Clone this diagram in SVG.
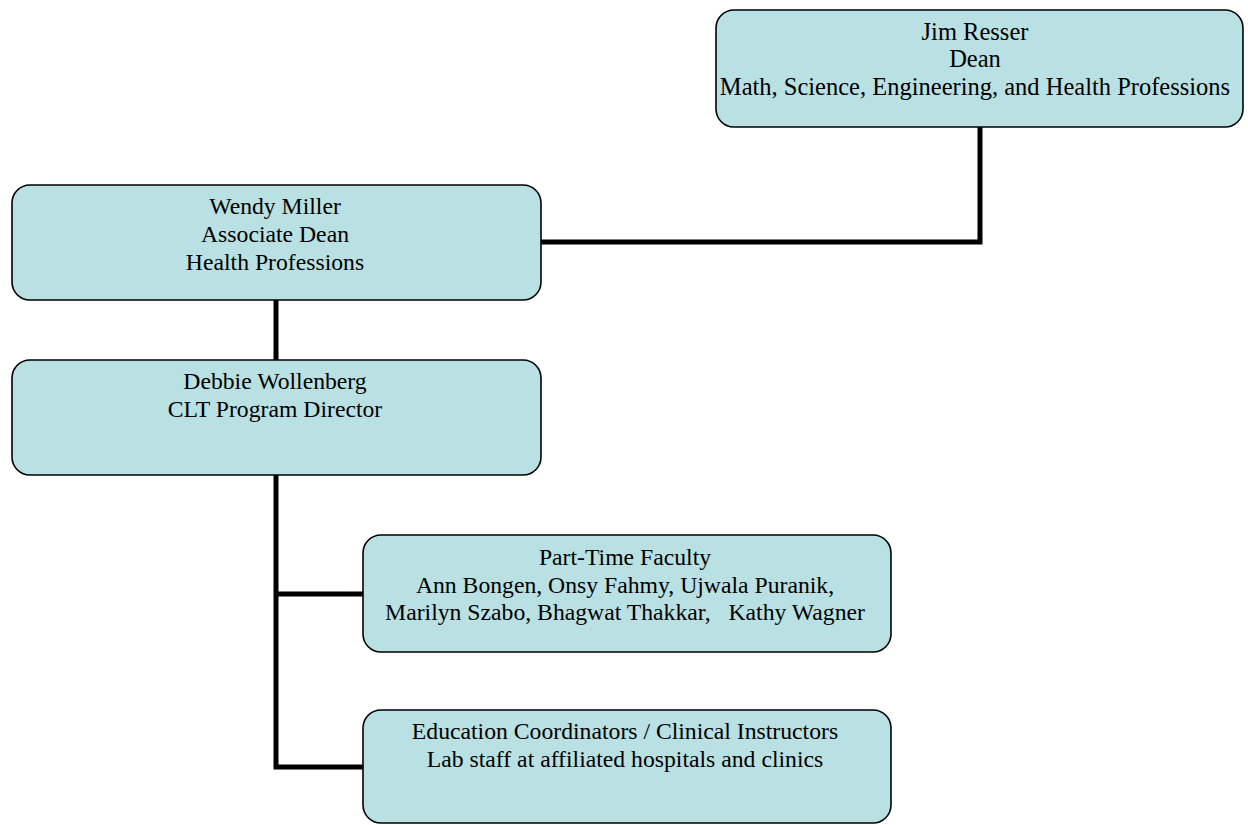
<svg xmlns="http://www.w3.org/2000/svg" width="1248" height="825" viewBox="0 0 1248 825">
<style>
.box{fill:#b9e0e3;stroke:#000;stroke-width:1.6}
.t{font-family:"Liberation Serif","Times New Roman",Times,serif;font-size:23.7px;fill:#000;text-anchor:middle}
.big{font-size:24.5px}
.c{fill:none;stroke:#000;stroke-width:5;stroke-linejoin:miter;stroke-linecap:butt}
</style>
<rect width="1248" height="825" fill="#fff"/>
<g id="connectors">
<polyline class="c" points="980,127 980,242 541,242"/>
<line class="c" x1="276" y1="300" x2="276" y2="360"/>
<polyline class="c" points="276,475 276,767 363,767"/>
<line class="c" x1="276" y1="594" x2="363" y2="594"/>
</g>
<g id="jim">
<rect class="box" x="716" y="10" width="527" height="117" rx="18"/>
<text class="t big" x="975" y="39.5">Jim Resser</text>
<text class="t big" x="975" y="67">Dean</text>
<text class="t big" x="975" y="94.5">Math, Science, Engineering, and Health Professions</text>
</g>
<g id="wendy">
<rect class="box" x="12" y="185" width="529" height="115" rx="18"/>
<text class="t" x="275" y="214">Wendy Miller</text>
<text class="t" x="275" y="242">Associate Dean</text>
<text class="t" x="275" y="270">Health Professions</text>
</g>
<g id="debbie">
<rect class="box" x="12" y="360" width="529" height="115" rx="18"/>
<text class="t" x="275" y="389">Debbie Wollenberg</text>
<text class="t" x="275" y="417">CLT Program Director</text>
</g>
<g id="parttime">
<rect class="box" x="363" y="535" width="528" height="117" rx="18"/>
<text class="t" x="625" y="565">Part-Time Faculty</text>
<text class="t" x="625" y="592.5">Ann Bongen, Onsy Fahmy, Ujwala Puranik,</text>
<text class="t" x="625" y="620" xml:space="preserve">Marilyn Szabo, Bhagwat Thakkar,   Kathy Wagner</text>
</g>
<g id="education">
<rect class="box" x="363" y="710" width="528" height="113" rx="18"/>
<text class="t" x="625" y="739">Education Coordinators / Clinical Instructors</text>
<text class="t" x="625" y="767">Lab staff at affiliated hospitals and clinics</text>
</g>
</svg>
